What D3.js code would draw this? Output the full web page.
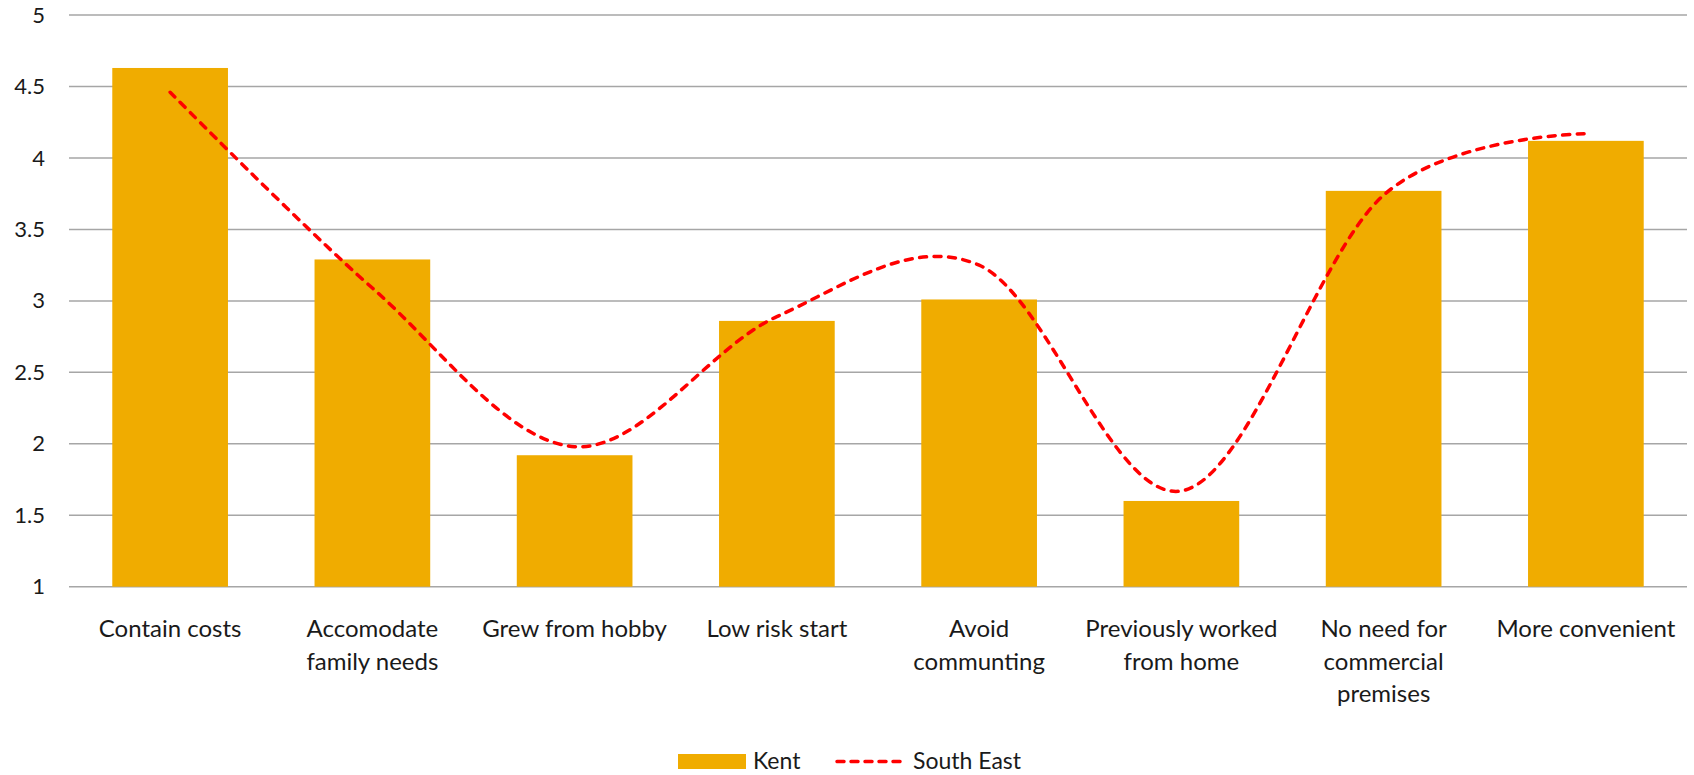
<!DOCTYPE html>
<html>
<head>
<meta charset="utf-8">
<script src="https://cdn.jsdelivr.net/npm/d3@7"></script>
<style>
  html, body { margin: 0; padding: 0; background: #ffffff; }
  svg { display: block; }
  text { font-family: Lato, "Open Sans", sans-serif; fill: #1a1a1a; }
</style>
</head>
<body>
<svg id="chart" width="1694" height="775"></svg>
<script>
const categories = [
  "Contain costs",
  "Accomodate family needs",
  "Grew from hobby",
  "Low risk start",
  "Avoid communting",
  "Previously worked from home",
  "No need for commercial premises",
  "More convenient"
];
const categoryLines = [
  ["Contain costs"],
  ["Accomodate", "family needs"],
  ["Grew from hobby"],
  ["Low risk start"],
  ["Avoid", "communting"],
  ["Previously worked", "from home"],
  ["No need for", "commercial", "premises"],
  ["More convenient"]
];
const kentValues = [4.63, 3.29, 1.92, 2.86, 3.01, 1.60, 3.77, 4.12];
const southEastValues = [4.46, 3.09, 1.98, 2.89, 3.25, 1.67, 3.74, 4.17];
const yTicks = [1, 1.5, 2, 2.5, 3, 3.5, 4, 4.5, 5];
const seriesNames = ["Kent", "South East"];

(function () {
const svg = d3.select("#chart");
const plotLeft = 69, plotRight = 1687, plotTop = 15.1, plotBottom = 586.7;

const x = d3.scaleBand().domain(categories).range([plotLeft, plotRight])
  .paddingInner(0.428).paddingOuter(0.214);
const y = d3.scaleLinear().domain([1, 5]).range([plotBottom, plotTop]);

// gridlines
svg.append("g").selectAll("line").data(yTicks).join("line")
  .attr("x1", plotLeft).attr("x2", plotRight)
  .attr("y1", d => y(d)).attr("y2", d => y(d))
  .attr("stroke", "#a6a6a6").attr("stroke-width", 1.5);

// y axis labels
const yAxis = d3.axisLeft(y).tickValues(yTicks).tickSize(0).tickPadding(0)
  .tickFormat(d3.format("~g"));
const gy = svg.append("g").attr("transform", "translate(45,0)").call(yAxis);
gy.select(".domain").remove();
gy.selectAll("text").attr("font-size", 22).attr("fill", "#1a1a1a")
  .style("font-family", "Lato, 'Open Sans', sans-serif");

// bars
svg.append("g").selectAll("rect").data(categories).join("rect")
  .attr("x", d => x(d))
  .attr("width", x.bandwidth())
  .attr("y", (d, i) => y(kentValues[i]))
  .attr("height", (d, i) => y(1) - y(kentValues[i]))
  .attr("fill", "#f0ac00");

// smoothed line
const line = d3.line()
  .x((d, i) => x(categories[i]) + x.bandwidth() / 2)
  .y(d => y(d))
  .curve(d3.curveCardinal.tension(0));
svg.append("path").datum(southEastValues)
  .attr("d", line)
  .attr("fill", "none")
  .attr("stroke", "#ff0000")
  .attr("stroke-width", 3.5)
  .attr("stroke-dasharray", "7,7.5")
  .attr("stroke-linecap", "round");

// x labels
const xl = svg.append("g").selectAll("text").data(categories).join("text")
  .attr("x", d => x(d) + x.bandwidth() / 2)
  .attr("y", 637)
  .attr("text-anchor", "middle")
  .attr("font-size", 24);
xl.each(function (d, i) {
  const t = d3.select(this);
  categoryLines[i].forEach((ln, j) => {
    t.append("tspan").attr("x", x(d) + x.bandwidth() / 2)
      .attr("dy", j === 0 ? 0 : 32.5).text(ln);
  });
});

// legend
const lg = svg.append("g");
lg.append("rect").attr("x", 678).attr("y", 754).attr("width", 68).attr("height", 15)
  .attr("fill", "#f0ac00");
lg.append("text").attr("x", 753).attr("y", 769).attr("font-size", 23).text(seriesNames[0]);
lg.append("line").attr("x1", 837).attr("x2", 904).attr("y1", 761.5).attr("y2", 761.5)
  .attr("stroke", "#ff0000").attr("stroke-width", 3.5)
  .attr("stroke-dasharray", "7,7").attr("stroke-linecap", "round");
lg.append("text").attr("x", 913).attr("y", 769).attr("font-size", 23).text(seriesNames[1]);
})();
</script>
</body>
</html>
